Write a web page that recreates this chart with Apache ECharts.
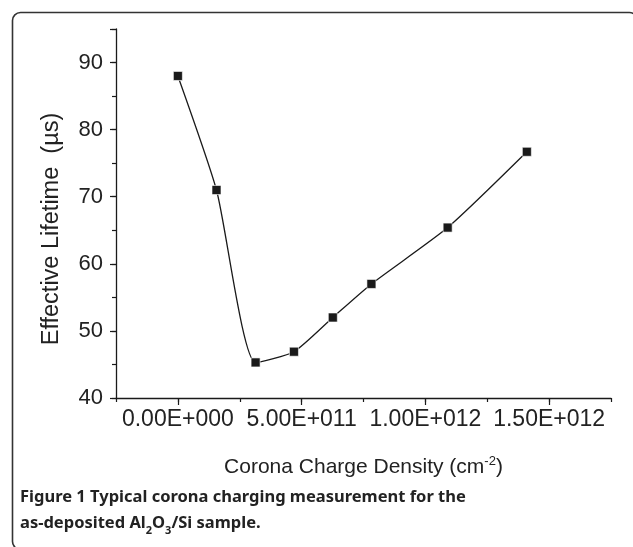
<!DOCTYPE html>
<html>
<head>
<meta charset="utf-8">
<script src="https://cdn.jsdelivr.net/npm/echarts@6/dist/echarts.min.js"></script>
<style>
html,body{margin:0;padding:0;background:#fff;}
#chart{width:633px;height:547px;}
</style>
</head>
<body>
<div id="chart"></div>
<script>
// Data
var chargeDensity = [0, 1.56e11, 3.14e11, 4.69e11, 6.26e11, 7.82e11, 1.09e12, 1.41e12];
var lifetime = [88.0, 71.0, 45.3, 46.9, 52.0, 57.0, 65.4, 76.7];
var xMajorTicks = [0, 5e11, 1e12, 1.5e12];
var yTickLabels = [40, 50, 60, 70, 80, 90];

var points = chargeDensity.map(function (x, i) { return [x, lifetime[i]]; });

function sci(v) {
  if (v === 0) return '0.00E+000';
  var e = Math.floor(Math.log10(Math.abs(v)) + 1e-9);
  var m = v / Math.pow(10, e);
  return m.toFixed(2) + 'E+' + String(e).padStart(3, '0');
}
function isMajorX(v) {
  return xMajorTicks.some(function (t) { return Math.abs(t - v) < 1e6; });
}

var AX = '#1a1a1a';
var FONT = 'Liberation Sans, Arial, sans-serif';
var chart = echarts.init(document.getElementById('chart'), null, {renderer: 'canvas'});

chart.setOption({
  backgroundColor: '#fff',
  animation: false,
  grid: {left: 116, right: 22, top: 29, bottom: 149, containLabel: false},
  xAxis: [{
    type: 'value', min: -2.5e11, max: 1.75e12, interval: 2.5e11, position: 'bottom',
    axisLine: {show: true, onZero: false, lineStyle: {color: AX, width: 1.3}},
    axisTick: {show: true, length: 4, inside: false, lineStyle: {color: AX, width: 1.2}},
    axisLabel: {show: false},
    splitLine: {show: false}
  }, {
    type: 'value', min: -2.5e11, max: 1.75e12, interval: 2.5e11, position: 'bottom',
    axisLine: {show: false, onZero: false},
    axisTick: {show: true, length: 7, customValues: xMajorTicks, lineStyle: {color: AX, width: 1.2}},
    axisLabel: {show: true, customValues: xMajorTicks, margin: 10, fontSize: 23, fontFamily: FONT, color: '#222',
      formatter: function (v) { return isMajorX(v) ? sci(v) : ''; }},
    splitLine: {show: false},
    name: '{n|Corona Charge Density (cm}{s|-2}{n|)}',
    nameLocation: 'middle', nameGap: 57,
    nameTextStyle: {
      rich: {
        n: {fontSize: 21, fontFamily: FONT, color: '#222', lineHeight: 24},
        s: {fontSize: 13, fontFamily: FONT, color: '#222', verticalAlign: 'top', lineHeight: 24, padding: [0, 0, 10, 0]}
      }
    }
  }],
  yAxis: [{
    type: 'value', min: 40, max: 95, interval: 5, position: 'left',
    axisLine: {show: true, onZero: false, lineStyle: {color: AX, width: 1.3}},
    axisTick: {show: true, length: 4, lineStyle: {color: AX, width: 1.2}},
    axisLabel: {show: false},
    splitLine: {show: false}
  }, {
    type: 'value', min: 40, max: 95, interval: 10, position: 'left', offset: 0,
    axisLine: {show: false, onZero: false},
    axisTick: {show: true, length: 6, lineStyle: {color: AX, width: 1.2}},
    axisLabel: {show: true, margin: 13, fontSize: 22, fontFamily: FONT, color: '#222',
      formatter: function (v) { return yTickLabels.indexOf(v) >= 0 ? String(v) : ''; }},
    splitLine: {show: false}
  }],
  series: [{
    type: 'line',
    xAxisIndex: 0, yAxisIndex: 0,
    data: points,
    smooth: 0.2,
    symbol: 'rect', symbolSize: 9,
    showAllSymbol: true,
    itemStyle: {color: '#1a1a1a', borderColor: '#ffffff', borderWidth: 0.6},
    lineStyle: {color: '#1a1a1a', width: 1.3}
  }],
  graphic: [{
    type: 'rect', silent: true, z: 100,
    shape: {x: 12.5, y: 12.5, width: 625, height: 537, r: 8},
    style: {fill: null, stroke: '#333', lineWidth: 1.6}
  }, {
    type: 'text', silent: true, z: 100,
    x: 52, y: 229, rotation: Math.PI / 2,
    style: {
      text: 'Effective Lifetime  (\u00b5s)',
      font: '23.5px ' + FONT, fill: '#222',
      align: 'center', verticalAlign: 'middle'
    }
  }, {
    type: 'text', silent: true, z: 100,
    left: 20, top: 489,
    style: {
      text: '{b|Figure 1 Typical corona charging measurement for the}\n{b|as-deposited Al}{sub|2}{b|O}{sub|3}{b|/Si sample.}',
      rich: {
        b: {font: 'bold 16.5px "Noto Sans", "Open Sans", sans-serif', fill: '#222', lineHeight: 26},
        sub: {font: 'bold 11px "Noto Sans", "Open Sans", sans-serif', fill: '#222', lineHeight: 26, verticalAlign: 'bottom', padding: [5, 0, 0, 0]}
      }
    }
  }]
});
</script>
</body>
</html>
